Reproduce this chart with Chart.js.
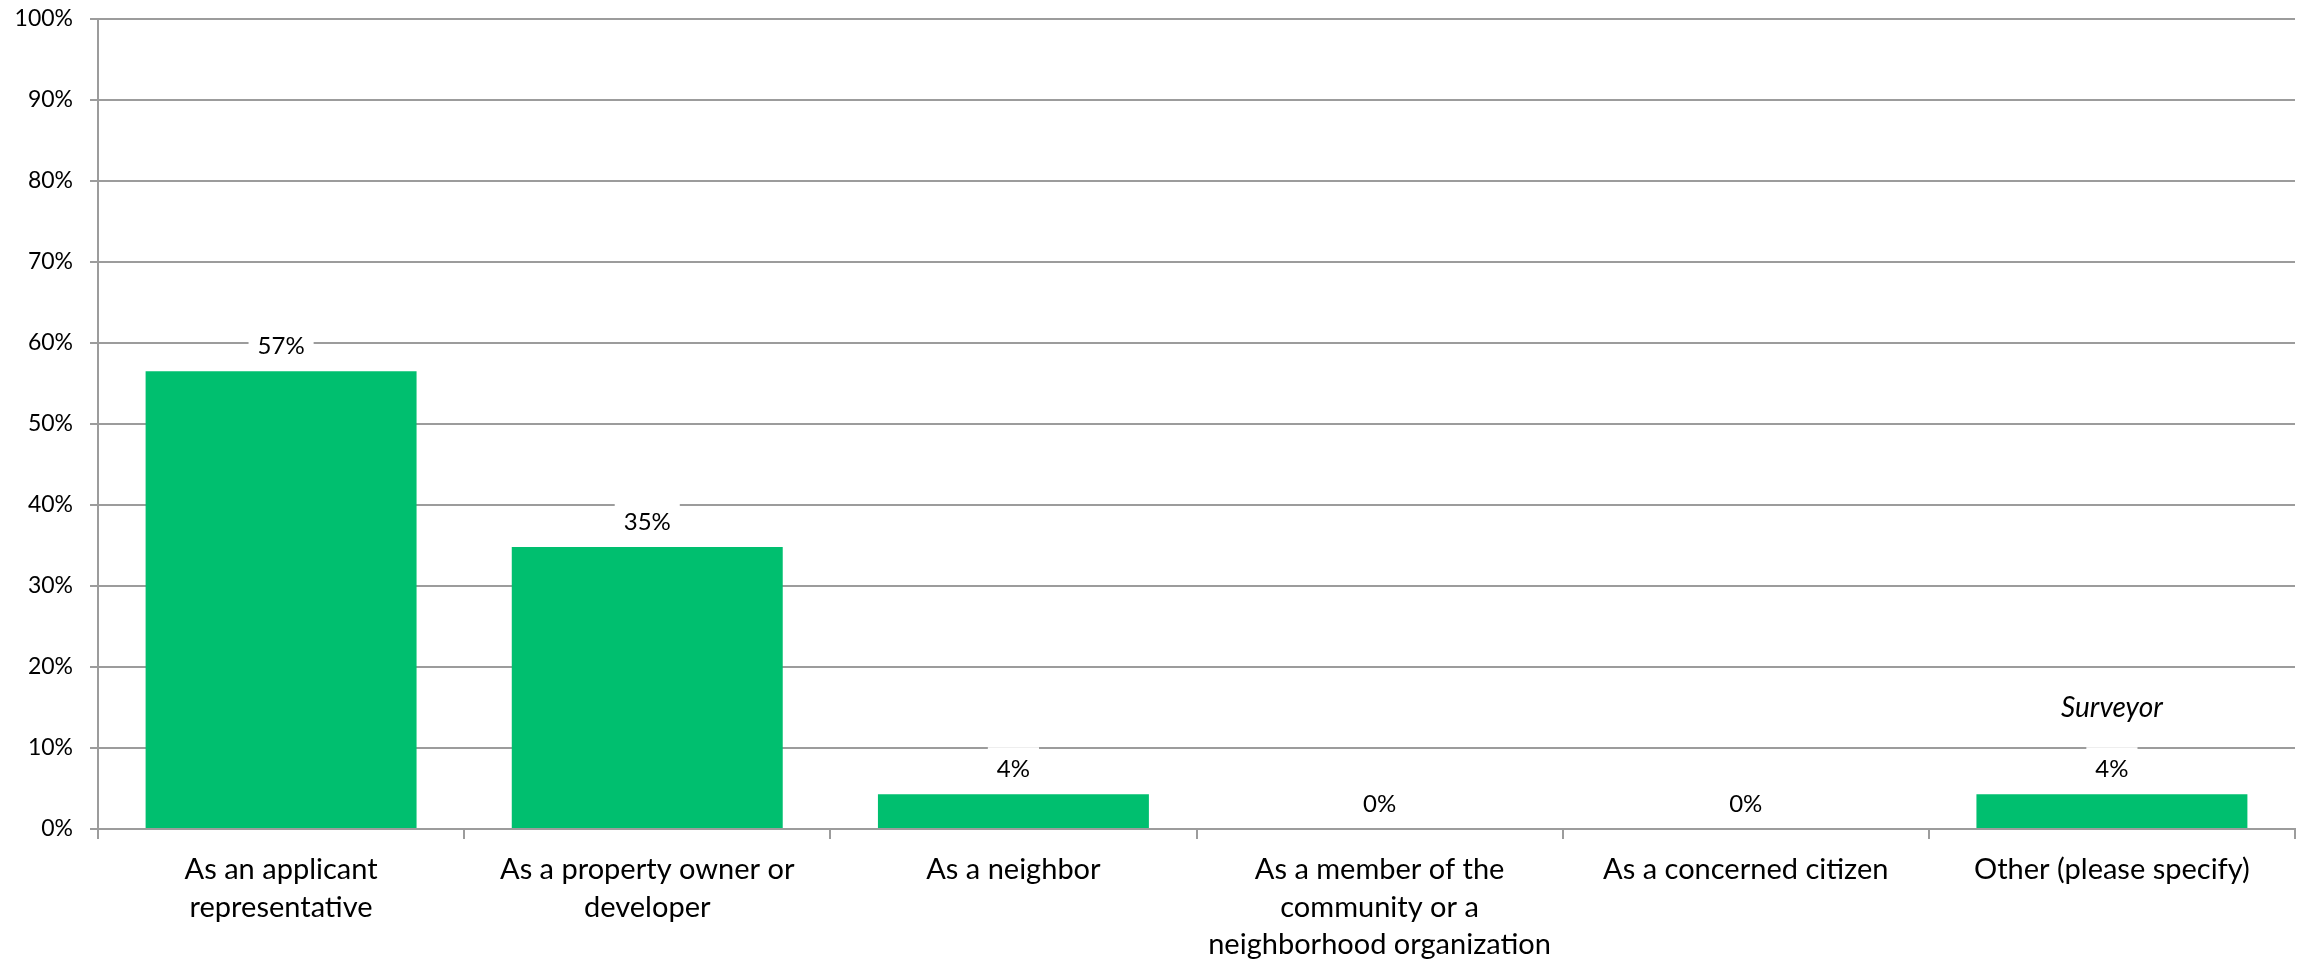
<!DOCTYPE html>
<html lang="en">
<head>
    <meta charset="UTF-8">
    <title>Role in the process</title>
    <script src="https://cdn.jsdelivr.net/npm/chart.js"></script>
    <style>
        html, body { margin: 0; padding: 0; background: #fff; }
        canvas { display: block; }
    </style>
</head>
<body>
    <canvas id="roleChart" width="2303" height="963"></canvas>

    <script>
        // Answer options (multi-line where the axis wraps them)
        const categories = [
            ['As an applicant', 'representative'],
            ['As a property owner or', 'developer'],
            'As a neighbor',
            ['As a member of the', 'community or a', 'neighborhood organization'],
            'As a concerned citizen',
            'Other (please specify)'
        ];
        // Share of respondents, in percent
        const shares = [56.5, 34.8, 4.3, 0, 0, 4.3];
        // Write-in answers shown above a bar
        const notes = ['', '', '', '', '', 'Surveyor'];
        const yTicks = [0, 10, 20, 30, 40, 50, 60, 70, 80, 90, 100];

        const FONT = 'Lato, "DejaVu Sans", sans-serif';
        const GRID = '#9c9c9c';

        // Percent labels on white boxes, plus any write-in note
        const valueLabels = {
            id: 'valueLabels',
            afterDatasetsDraw(chart) {
                const { ctx } = chart;
                const meta = chart.getDatasetMeta(0);
                ctx.save();
                ctx.textAlign = 'center';
                ctx.textBaseline = 'middle';
                meta.data.forEach((bar, i) => {
                    const text = Math.round(shares[i]) + '%';
                    const x = bar.x;
                    const y = bar.y - 25;
                    ctx.font = '24px ' + FONT;
                    const w = ctx.measureText(text).width + 18;
                    ctx.fillStyle = '#fff';
                    ctx.fillRect(x - w / 2, y - 22, w, 44);
                    ctx.fillStyle = '#000';
                    ctx.fillText(text, x, y);
                    if (notes[i]) {
                        ctx.font = 'italic 28px ' + FONT;
                        ctx.fillText(notes[i], x, y - 61);
                    }
                });
                ctx.restore();
            }
        };

        const ctx = document.getElementById('roleChart').getContext('2d');
        new Chart(ctx, {
            type: 'bar',
            data: {
                labels: categories,
                datasets: [{
                    data: shares,
                    backgroundColor: '#00bf6f',
                    borderWidth: 0,
                    categoryPercentage: 1,
                    barPercentage: 0.74
                }]
            },
            options: {
                responsive: false,
                animation: false,
                layout: { padding: { top: 19, right: 8, left: 0, bottom: 0 } },
                plugins: {
                    legend: { display: false },
                    tooltip: { enabled: false }
                },
                scales: {
                    x: {
                        offset: true,
                        grid: {
                            offset: true,
                            drawOnChartArea: false,
                            drawTicks: true,
                            tickLength: 10,
                            color: GRID,
                            lineWidth: 2
                        },
                        border: { display: true, color: GRID, width: 2 },
                        ticks: {
                            color: '#000',
                            padding: 12,
                            maxRotation: 0,
                            autoSkip: false,
                            font: { family: FONT, size: 29, lineHeight: '37.5px' }
                        },
                        afterFit(scale) { scale.height = 134; }
                    },
                    y: {
                        min: 0,
                        max: 100,
                        afterBuildTicks(scale) {
                            scale.ticks = yTicks.map(v => ({ value: v }));
                        },
                        grid: {
                            color: GRID,
                            lineWidth: 2,
                            drawTicks: true,
                            tickLength: 8
                        },
                        border: { display: true, color: GRID, width: 2 },
                        ticks: {
                            color: '#000',
                            padding: 17,
                            callback: v => v + '%',
                            font: { family: FONT, size: 23 }
                        },
                        afterFit(scale) {
                            scale.width = 98;
                            // top/bottom room is set by layout padding instead
                            scale.paddingTop = 0;
                            scale.paddingBottom = 0;
                        }
                    }
                }
            },
            plugins: [valueLabels]
        });
    </script>
</body>
</html>
